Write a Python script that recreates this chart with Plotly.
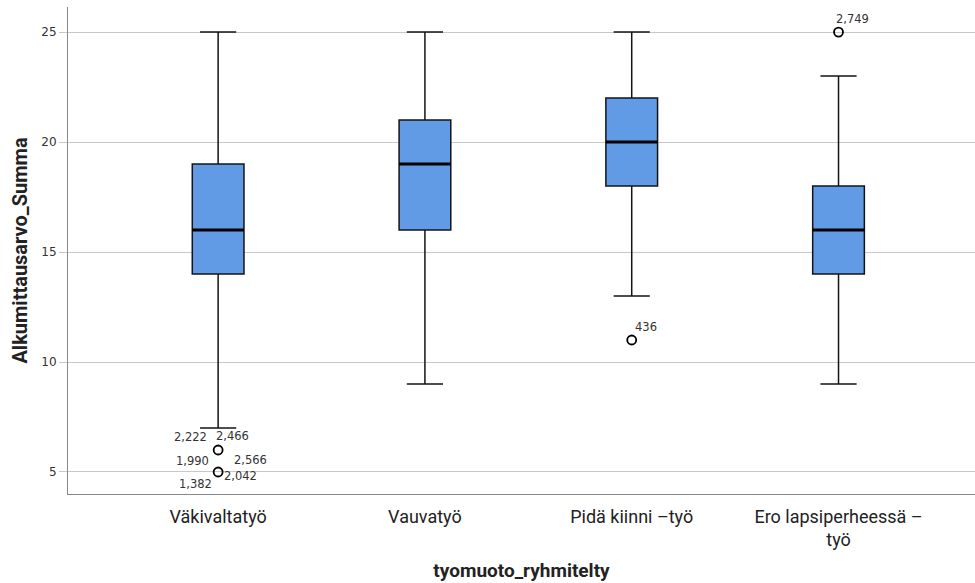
import plotly.graph_objects as go

categories = ["Väkivaltatyö", "Vauvatyö", "Pidä kiinni –työ", "Ero lapsiperheessä –<br>työ"]
lower_whisker = [7, 9, 13, 9]
q1 = [14, 16, 18, 14]
median = [16, 19, 20, 16]
q3 = [19, 21, 22, 18]
upper_whisker = [25, 25, 25, 23]

# outliers: (category index, value)
outlier_cat = [0, 0, 2, 3]
outlier_val = [6, 5, 11, 25]

# outlier case labels: (category index, value, text, x pixel shift, y pixel shift)
label_cat = [0, 0, 0, 0, 0, 0, 2, 3]
label_val = [6, 6, 5, 5, 5, 5, 11, 25]
label_text = ["2,222", "2,466", "1,990", "2,566", "1,382", "2,042", "436", "2,749"]
label_dx = [-28, 14, -26, 32, -23, 22, 14, 14]
label_dy = [13, 14, 11, 12, -12, -4, 13, 13]

pos = list(range(len(categories)))
box_color = "rgb(97,155,230)"
edge = "rgb(20,20,20)"

fig = go.Figure()
fig.add_trace(go.Box(
    x=pos, q1=q1, median=median, q3=q3,
    lowerfence=lower_whisker, upperfence=upper_whisker,
    width=0.25, whiskerwidth=0.7,
    fillcolor=box_color, line=dict(color=edge, width=1.5),
    boxpoints=False, showlegend=False, hoverinfo="skip",
))
# thick median lines
for i, m in zip(pos, median):
    fig.add_trace(go.Scatter(x=[i - 0.125, i + 0.125], y=[m, m], mode="lines",
                             line=dict(color="black", width=3), showlegend=False, hoverinfo="skip"))
fig.add_trace(go.Scatter(
    x=outlier_cat, y=outlier_val, mode="markers",
    marker=dict(symbol="circle-open", size=9, color="black", line=dict(width=1.8)),
    showlegend=False, hoverinfo="skip"))

for c, v, t, dx, dy in zip(label_cat, label_val, label_text, label_dx, label_dy):
    fig.add_annotation(x=c, y=v, text=t, showarrow=False, xshift=dx, yshift=dy,
                       font=dict(family="DejaVu Sans", size=11.5, color="#333"))

fig.update_layout(
    width=975, height=583,
    margin=dict(l=68, r=0, t=7, b=89),
    plot_bgcolor="white", paper_bgcolor="white",
    xaxis=dict(range=[-0.726, 3.66], tickvals=pos, ticktext=categories,
               showgrid=False, zeroline=False, showline=True, linecolor="#888", linewidth=1,
               ticks="", ticklabelstandoff=6,
               tickfont=dict(family="Roboto, sans-serif", size=18, color="#222"),
               title=dict(text="<b>tyomuoto_ryhmitelty</b>", standoff=14,
                          font=dict(family="Roboto, sans-serif", size=19, color="#222"))),
    yaxis=dict(range=[3.999, 26.14], tickvals=[5, 10, 15, 20, 25],
               showgrid=True, gridcolor="#c8c8c8", gridwidth=1, zeroline=False,
               showline=True, linecolor="#888", linewidth=1,
               ticks="outside", ticklen=8, tickcolor="#c8c8c8",
               tickfont=dict(family="DejaVu Sans", size=12, color="#333"),
               title=dict(text="<b>Alkumittausarvo_Summa</b>", standoff=8,
                          font=dict(family="Roboto, sans-serif", size=20, color="#222"))),
)
fig.write_html("out.html")
